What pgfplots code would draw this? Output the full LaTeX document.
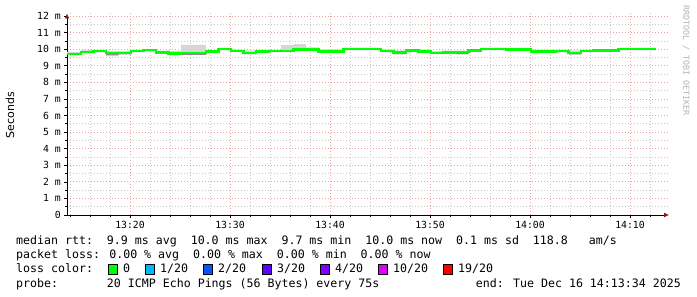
\documentclass[border=0pt]{standalone}
\usepackage{fontspec}
\setmainfont{DejaVu Sans Mono}
\newfontfamily\labelfont{DejaVu Sans}
\usepackage{pgfplots}
\pgfplotsset{compat=1.18}
\usepackage{pgfplotstable}
\usepgfplotslibrary{fillbetween}
\usetikzlibrary{arrows.meta}

\definecolor{lossA}{HTML}{00FF00}
\definecolor{lossB}{HTML}{00B8FF}
\definecolor{lossC}{HTML}{0059FF}
\definecolor{lossD}{HTML}{5E00FF}
\definecolor{lossE}{HTML}{7E00FF}
\definecolor{lossF}{HTML}{DD00FF}
\definecolor{lossG}{HTML}{FF0000}
\definecolor{majgrid}{HTML}{E9A3A3}
\definecolor{mingrid}{HTML}{C8C8C8}
\definecolor{smoke}{HTML}{D6D6D6}
\definecolor{darksmoke}{HTML}{8C8C8C}
\definecolor{arrowred}{HTML}{8B1A1A}

\pgfplotstableread{
x     med   lo    hi     dlo
13.7  9.72  9.65  9.83   9.66
15.1  9.84  9.77  9.95   9.84
16.35 9.90  9.79  9.95   9.84
17.6  9.76  9.57  9.89   9.64
18.85 9.76  9.65  9.89   9.76
20.1  9.88  9.81  9.95   9.88
21.35 9.94  9.87  9.99   9.94
22.6  9.80  9.75  9.91   9.80
23.85 9.74  9.67  9.89   9.74
25.1  9.76  9.65  10.26  9.66
26.35 9.76  9.65  10.26  9.66
27.6  9.86  9.79  9.95   9.86
28.85 10.00 9.93  10.07  10.00
30.1  9.90  9.83  9.97   9.90
31.35 9.78  9.69  9.93   9.70
32.6  9.86  9.81  9.93   9.86
33.85 9.88  9.83  9.95   9.88
35.1  9.88  9.83  10.24  9.88
36.35 9.98  9.91  10.30  9.98
37.6  9.98  9.91  10.10  9.98
38.85 9.86  9.81  9.99   9.86
40.1  9.86  9.81  9.99   9.86
41.35 10.00 9.93  10.09  10.00
42.6  10.00 9.93  10.09  10.00
43.85 10.00 9.93  10.07  10.00
45.1  9.88  9.81  9.99   9.88
46.35 9.80  9.69  9.93   9.70
47.6  9.92  9.85  9.99   9.92
48.85 9.86  9.81  9.99   9.86
50.1  9.76  9.71  9.89   9.76
51.35 9.80  9.73  9.91   9.80
52.6  9.84  9.69  9.91   9.70
53.85 9.92  9.83  9.99   9.92
55.1  10.00 9.93  10.07  10.00
56.35 10.00 9.93  10.09  10.00
57.6  9.98  9.91  10.07  9.98
58.85 9.98  9.91  10.07  9.98
60.1  9.86  9.81  9.97   9.86
61.35 9.86  9.81  9.97   9.86
62.6  9.88  9.81  9.97   9.88
63.85 9.76  9.67  9.93   9.68
65.1  9.90  9.83  9.97   9.90
66.35 9.92  9.85  9.99   9.92
67.6  9.92  9.85  9.99   9.92
68.85 10.00 9.93  10.07  10.00
70.1  10.00 9.93  10.07  10.00
71.35 10.00 9.93  10.07  10.00
72.6  10.00 9.93  10.07  10.00
}\rtt

\newcommand\legfont{\fontsize{11.6}{12}\selectfont}
\newcommand\tickfont{\fontsize{9.8}{10}\selectfont}

\begin{document}
\begin{tikzpicture}
\path (0pt,0pt) rectangle (697pt,297pt);
\begin{axis}[
  at={(67pt,82pt)}, anchor=south west,
  scale only axis, width=602pt, height=201.5pt,
  xmin=13.7, xmax=73.9, ymin=0, ymax=12.15,
  axis x line=bottom, axis y line=left,
  x axis line style={line width=0.8pt, -{Latex[length=5pt,width=5pt,color=arrowred]}},
  y axis line style={line width=0.8pt, -{Latex[length=5pt,width=5pt,color=arrowred]}},
  xtick={20,30,40,50,60,70},
  xticklabels={13:20,13:30,13:40,13:50,14:00,14:10},
  minor xtick={14,16,18,22,24,26,28,32,34,36,38,42,44,46,48,52,54,56,58,62,64,66,68,72},
  ytick={0,1,2,3,4,5,6,7,8,9,10,11,12},
  yticklabels={0,1 m,2 m,3 m,4 m,5 m,6 m,7 m,8 m,9 m,10 m,11 m,12 m},
  minor ytick={0.5,1.5,2.5,3.5,4.5,5.5,6.5,7.5,8.5,9.5,10.5,11.5},
  grid=both,
  major grid style={dash pattern=on 1pt off 2pt, color=majgrid, line width=0.7pt},
  minor grid style={dash pattern=on 1pt off 2pt, color=mingrid, line width=0.7pt},
  tick align=outside,
  major tick length=3pt, minor tick length=2pt,
  tick style={black, line width=0.6pt},
  xticklabel style={font=\tickfont, inner sep=0pt, anchor=north, yshift=-3pt},
  yticklabel style={font=\tickfont, inner sep=0pt, anchor=east, xshift=-3pt},
]
\addplot[name path=hi, const plot, draw=none, forget plot] table[x=x,y=hi]{\rtt};
\addplot[name path=lo, const plot, draw=none, forget plot] table[x=x,y=lo]{\rtt};
\addplot[name path=dlo, const plot, draw=none, forget plot] table[x=x,y=dlo]{\rtt};
\addplot[name path=md, const plot, draw=none, forget plot] table[x=x,y=med]{\rtt};
\addplot[smoke, forget plot] fill between[of=hi and lo];
\addplot[darksmoke, forget plot] fill between[of=md and dlo];
\addplot[const plot, black, line width=1pt, mark=none, forget plot] table[x=x,y=med]{\rtt};
\addplot[const plot, lossA, line width=2.2pt, mark=none] table[x=x,y=med]{\rtt};
\end{axis}

\node[rotate=90, font=\labelfont\fontsize{11}{12}\selectfont, inner sep=0pt] at (10pt,182pt) {Seconds};
\node[rotate=-90, anchor=west, font=\fontsize{8.3}{9}\selectfont, text=black!30, inner sep=0pt] at (686pt,292pt) {RRDTOOL / TOBI OETIKER};

\node[anchor=base west, inner sep=0pt, font=\legfont] at (16pt,52pt) {median rtt:~~9.9 ms avg~~10.0 ms max~~9.7 ms min~~10.0 ms now~~0.1 ms sd~~118.8~~~am/s};
\node[anchor=base west, inner sep=0pt, font=\legfont] at (16pt,38pt) {packet loss: 0.00 \% avg~~0.00 \% max~~0.00 \% min~~0.00 \% now};
\node[anchor=base west, inner sep=0pt, font=\legfont] at (16pt,24pt) {loss color:};
\node[anchor=base west, inner sep=0pt, font=\legfont] at (16pt,9pt) {probe:~~~~~~~20 ICMP Echo Pings (56 Bytes) every 75s};
\node[anchor=base east, inner sep=0pt, font=\legfont] at (681pt,9pt) {end: Tue Dec 16 14:13:34 2025};

\draw[black, line width=0.8pt, fill=lossA] (108pt,23pt) rectangle (117pt,33pt);
\draw[black, line width=0.8pt, fill=lossB] (145pt,23pt) rectangle (154pt,33pt);
\draw[black, line width=0.8pt, fill=lossC] (203pt,23pt) rectangle (212pt,33pt);
\draw[black, line width=0.8pt, fill=lossD] (262pt,23pt) rectangle (271pt,33pt);
\draw[black, line width=0.8pt, fill=lossE] (320pt,23pt) rectangle (329pt,33pt);
\draw[black, line width=0.8pt, fill=lossF] (378pt,23pt) rectangle (387pt,33pt);
\draw[black, line width=0.8pt, fill=lossG] (443pt,23pt) rectangle (452pt,33pt);
\node[anchor=base west, inner sep=0pt, font=\legfont] at (123pt,24pt) {0};
\node[anchor=base west, inner sep=0pt, font=\legfont] at (160pt,24pt) {1/20};
\node[anchor=base west, inner sep=0pt, font=\legfont] at (218pt,24pt) {2/20};
\node[anchor=base west, inner sep=0pt, font=\legfont] at (277pt,24pt) {3/20};
\node[anchor=base west, inner sep=0pt, font=\legfont] at (335pt,24pt) {4/20};
\node[anchor=base west, inner sep=0pt, font=\legfont] at (393pt,24pt) {10/20};
\node[anchor=base west, inner sep=0pt, font=\legfont] at (458pt,24pt) {19/20};
\end{tikzpicture}
\end{document}
